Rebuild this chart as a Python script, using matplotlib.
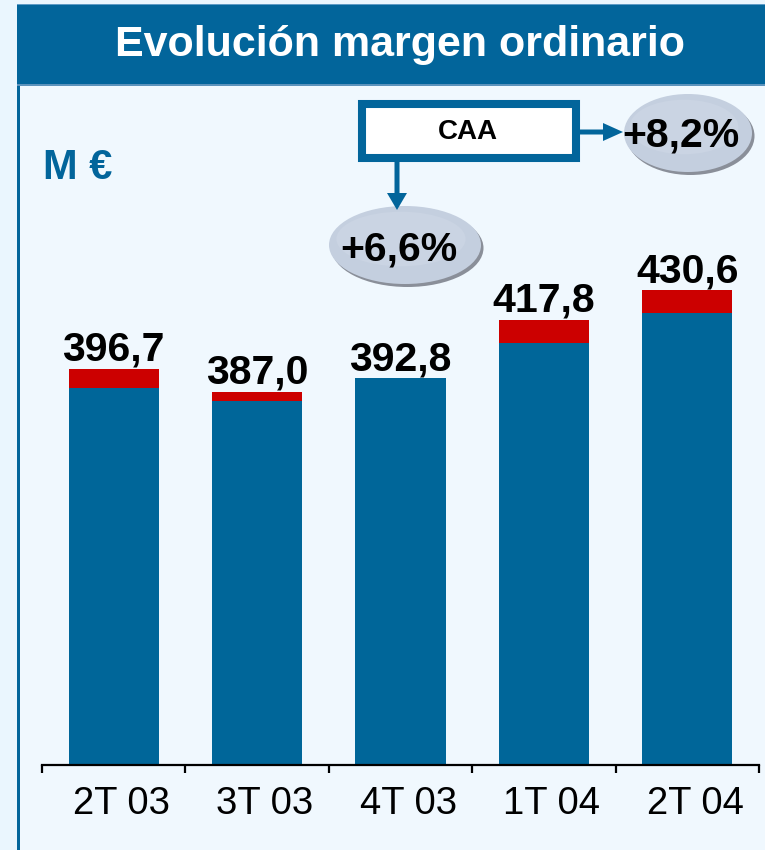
import matplotlib
matplotlib.use('Agg')
import matplotlib.pyplot as plt
import matplotlib.transforms as mtransforms
from matplotlib.patches import Rectangle, Ellipse, FancyArrow
import numpy as np

# ---- data ----
categories = ['2T 03', '3T 03', '4T 03', '1T 04', '2T 04']
totals = [396.7, 387.0, 392.8, 417.8, 430.6]
caa = [8.0, 4.0, 0.0, 9.6, 9.5]
value_labels = ['396,7', '387,0', '392,8', '417,8', '430,6']
title = 'Evolución margen ordinario'
unit_label = 'M €'
caa_label = 'CAA'
growth_with_caa = '+8,2%'
growth_without_caa = '+6,6%'

base = [t - c for t, c in zip(totals, caa)]

BLUE = '#02659B'
BAR_BLUE = '#006699'
RED = '#CC0000'
FONT = ['Liberation Sans', 'DejaVu Sans']
plt.rcParams['font.family'] = FONT

W, H = 765, 850
fig = plt.figure(figsize=(W / 100, H / 100), dpi=100)
fig.patch.set_facecolor('#EAF6FE')

# ---- decoration layer (pixel coordinates) ----
deco = fig.add_axes([0, 0, 1, 1], zorder=0)
deco.set_xlim(0, W)
deco.set_ylim(H, 0)
deco.axis('off')
deco.add_patch(Rectangle((17, 86), W - 17, H - 86, facecolor='#F0F8FE', edgecolor='none'))
deco.add_patch(Rectangle((17, 86), 3.5, H - 86, facecolor=BLUE, edgecolor='none'))
deco.add_patch(Rectangle((17, 4), W - 17, 80, facecolor=BLUE, edgecolor='none'))
deco.add_patch(Rectangle((17, 4), W - 17, 1.2, facecolor='#5E9BC6', edgecolor='none'))
deco.add_patch(Rectangle((17, 84), W - 17, 2, facecolor='#5C93BC', edgecolor='none'))
deco.text(400, 45, title, color='white', fontsize=31, fontweight='bold',
          ha='center', va='center')
deco.text(43, 168, unit_label, color=BLUE, fontsize=30, fontweight='bold',
          ha='left', va='center')

# ---- main chart ----
y_bottom = 226.5
px_per_unit = 2.325
ax_top_px, ax_base_px = 86, 765
ax = fig.add_axes([42 / W, (H - ax_base_px) / H, (759 - 42) / W,
                   (ax_base_px - ax_top_px) / H], zorder=1)
ax.set_facecolor('none')
x = np.arange(len(categories))
ax.bar(x, base, width=0.63, color=BAR_BLUE, zorder=2)
ax.bar(x, caa, bottom=base, width=0.63, color=RED, zorder=2)
ax.set_xlim(-0.5, len(categories) - 0.5)
ax.set_ylim(y_bottom, y_bottom + (ax_base_px - ax_top_px) / px_per_unit)
for s in ['top', 'right', 'left']:
    ax.spines[s].set_visible(False)
ax.spines['bottom'].set_linewidth(1.6)
ax.spines['bottom'].set_color('black')
ax.set_yticks([])
ax.set_xticks(x)
ax.set_xticklabels(categories, fontsize=27.5)
ax.tick_params(axis='x', which='major', length=0, pad=15)
ax.set_xticks(np.arange(-0.5, len(categories)), minor=True)
ax.tick_params(axis='x', which='minor', length=6, width=1.6, direction='out', color='black')
shift = mtransforms.ScaledTranslation(8 / 100, 0, fig.dpi_scale_trans)
for lbl in ax.get_xticklabels():
    lbl.set_transform(lbl.get_transform() + shift)

for xi, t, lab in zip(x, totals, value_labels):
    ax.annotate(lab, (xi, t), xytext=(0, 6), textcoords='offset points',
                ha='center', va='baseline', fontsize=29.5, fontweight='bold', zorder=3)

# ---- annotations layer ----
top = fig.add_axes([0, 0, 1, 1], zorder=2)
top.set_xlim(0, W)
top.set_ylim(H, 0)
top.axis('off')

def bubble(cx, cy, w, h, text, tx, ty):
    top.add_patch(Ellipse((cx + 2.5, cy + 3), w, h, facecolor='#8A8F99', edgecolor='none'))
    top.add_patch(Ellipse((cx, cy), w, h, facecolor='#C4CFDF', edgecolor='none'))
    top.add_patch(Ellipse((cx - 4, cy - 6), w * 0.85, h * 0.7, facecolor='#CAD4E3', edgecolor='none'))
    top.text(tx, ty, text, fontsize=29.5, fontweight='bold', ha='center', va='center')

bubble(688, 133, 128, 78, growth_with_caa, 681, 135)
bubble(405, 245, 152, 78, growth_without_caa, 399, 249)

top.add_patch(Rectangle((362, 104), 214, 54, facecolor='white', edgecolor=BLUE, linewidth=5.8))
top.text(468, 132, caa_label, fontsize=20, fontweight='bold', ha='center', va='center')
top.add_patch(FancyArrow(580, 132, 43, 0, width=5, head_width=18, head_length=20,
                         length_includes_head=True, color=BLUE, linewidth=0))
top.add_patch(FancyArrow(397, 162, 0, 48, width=5, head_width=20, head_length=17,
                         length_includes_head=True, color=BLUE, linewidth=0))

fig.savefig('out.png', dpi=100)
